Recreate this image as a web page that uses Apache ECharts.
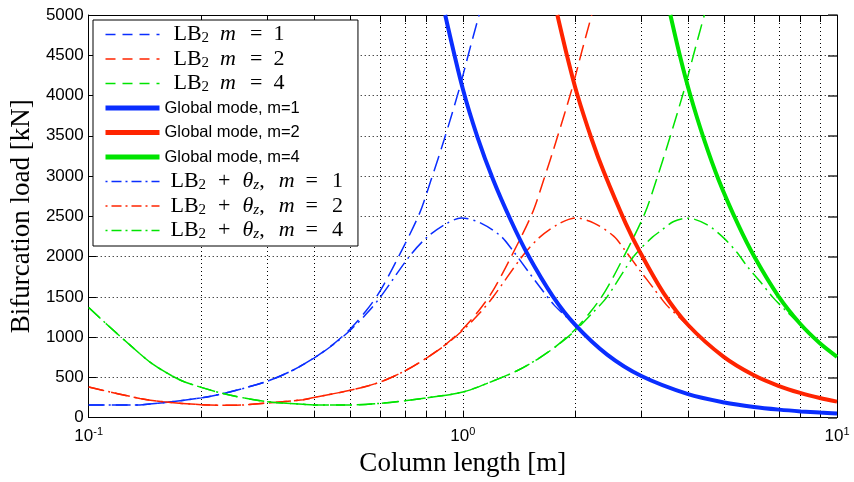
<!DOCTYPE html>
<html>
<head>
<meta charset="utf-8">
<script src="https://cdn.jsdelivr.net/npm/echarts@6/dist/echarts.min.js"></script>
<style>
  html, body { margin: 0; padding: 0; background: #fff; }
  #chart { width: 854px; height: 482px; }
</style>
</head>
<body>
<div id="chart"></div>
<script>
// Column length [m] and bifurcation load [kN] for each buckling curve

// LB2 distortional mode, dashed
const lb2M1L = [0.1, 0.125, 0.137, 0.158, 0.2, 0.238, 0.3, 0.35, 0.4, 0.45, 0.5, 0.55, 0.6, 0.67, 0.765, 0.822, 0.891, 0.978, 1.04, 1.105];
const lb2M1P = [157, 155, 158, 185, 245, 318, 452, 585, 740, 910, 1100, 1320, 1567, 1980, 2530, 2950, 3450, 4080, 4550, 5000];

const lb2M2L = [0.1, 0.137, 0.158, 0.2, 0.24, 0.3, 0.374, 0.4, 0.5, 0.6, 0.7, 0.8, 0.9, 1.0, 1.1, 1.2, 1.34, 1.53, 1.644, 1.78, 1.956, 2.08, 2.21];
const lb2M2P = [379, 238, 198, 160, 152, 180, 222, 250, 339, 440, 580, 740, 910, 1100, 1320, 1567, 1980, 2530, 2950, 3450, 4080, 4550, 5000];

const lb2M4L = [0.1, 0.1117, 0.129, 0.1487, 0.175, 0.2, 0.238, 0.3, 0.374, 0.4, 0.5, 0.6, 0.7, 0.8, 1.0, 1.2, 1.4, 1.6, 1.8, 2.0, 2.2, 2.4, 2.68, 3.06, 3.29, 3.56, 3.91, 4.16, 4.42];
const lb2M4P = [1367, 1160, 900, 660, 470, 375, 280, 198, 165, 157, 157, 177, 209, 245, 318, 452, 585, 740, 910, 1100, 1320, 1567, 1980, 2530, 2950, 3450, 4080, 4550, 5000];

// Global (flexural) mode, solid
const globM1L = [0.897, 1.0, 1.094, 1.205, 1.342, 1.487, 1.74, 2.0, 2.43, 3.0, 4.0, 5.0, 6.0, 7.0, 8.0, 9.0, 10.0];
const globM1P = [5000, 4080, 3484, 2954, 2454, 2035, 1506, 1148, 782, 516, 291, 188, 132, 99, 77, 62, 51];

const globM2L = [1.789, 1.9, 2.02, 2.217, 2.382, 2.72, 2.98, 3.44, 4.0, 4.97, 5.98, 6.97, 7.97, 9.0, 10.0];
const globM2P = [5000, 4488, 4019, 3438, 3049, 2419, 2049, 1546, 1150, 757, 528, 395, 307, 243, 198];

const globM4L = [3.587, 3.81, 4.05, 4.4, 4.83, 5.45, 6.03, 6.97, 7.97, 9.0, 10.0];
const globM4P = [5000, 4478, 4012, 3471, 2949, 2390, 1988, 1509, 1165, 923, 755];

// LB2 + theta_z mode, dash-dot
const lbtM1L = [0.1, 0.125, 0.137, 0.158, 0.2, 0.238, 0.3, 0.35, 0.4, 0.45, 0.5, 0.55, 0.6, 0.719, 0.8, 0.9, 0.99, 1.117, 1.263, 1.357, 1.487, 1.614, 1.752, 1.862, 1.98];
const lbtM1P = [157, 155, 158, 185, 245, 318, 452, 585, 740, 905, 1085, 1280, 1488, 2000, 2235, 2404, 2480, 2416, 2254, 2080, 1830, 1609, 1400, 1280, 1160];

const lbtM2L = [0.1, 0.137, 0.158, 0.2, 0.24, 0.3, 0.374, 0.4, 0.5, 0.6, 0.7, 0.8, 0.9, 1.0, 1.1, 1.2, 1.44, 1.6, 1.8, 2.0, 2.24, 2.53, 2.71, 2.97, 3.23, 3.5, 3.72, 3.96];
const lbtM2P = [379, 238, 198, 160, 152, 180, 222, 250, 339, 440, 580, 740, 905, 1085, 1280, 1488, 2000, 2235, 2404, 2480, 2416, 2254, 2080, 1830, 1609, 1400, 1280, 1160];

const lbtM4L = [0.1, 0.1117, 0.129, 0.1487, 0.175, 0.2, 0.238, 0.3, 0.374, 0.4, 0.5, 0.6, 0.7, 0.8, 1.0, 1.2, 1.4, 1.6, 1.8, 2.0, 2.2, 2.43, 2.86, 3.2, 3.37, 3.66, 4.0, 4.49, 4.97, 5.4, 5.75, 6.23, 6.75, 7.33, 7.8];
const lbtM4P = [1367, 1160, 900, 660, 470, 375, 280, 198, 165, 157, 157, 177, 209, 245, 318, 452, 585, 740, 905, 1085, 1280, 1500, 2000, 2235, 2315, 2436, 2477, 2396, 2235, 2053, 1880, 1690, 1490, 1320, 1200];

// Axis ticks
const yTicks = [0, 500, 1000, 1500, 2000, 2500, 3000, 3500, 4000, 4500, 5000];
const xDecades = [0.1, 1, 10];

const BLUE = '#0a2eff';
const RED = '#ff2400';
const GREEN = '#00e400';

const DASH = [16, 7];
const DASHDOT = [15, 5, 2, 5];
const GRID_DOT = [1, 3];

const zip = (xs, ys) => xs.map((x, i) => [x, ys[i]]);

function curve(name, L, P, color, kind) {
  const width = kind === 'solid' ? 4 : 1.5;
  const type = kind === 'dash' ? DASH : kind === 'dashdot' ? DASHDOT : 'solid';
  return {
    name: name,
    type: 'line',
    data: zip(L, P),
    symbol: 'none',
    smooth: 0.3,
    clip: true,
    z: kind === 'solid' ? 4 : 3,
    lineStyle: { color: color, width: width, type: type },
    itemStyle: { color: color },
    emphasis: { disabled: true }
  };
}

const series = [
  curve('lb2-1', lb2M1L, lb2M1P, BLUE, 'dash'),
  curve('lb2-2', lb2M2L, lb2M2P, RED, 'dash'),
  curve('lb2-4', lb2M4L, lb2M4P, GREEN, 'dash'),
  curve('glob-1', globM1L, globM1P, BLUE, 'solid'),
  curve('glob-2', globM2L, globM2P, RED, 'solid'),
  curve('glob-4', globM4L, globM4P, GREEN, 'solid'),
  curve('lbt-1', lbtM1L, lbtM1P, BLUE, 'dashdot'),
  curve('lbt-2', lbtM2L, lbtM2P, RED, 'dashdot'),
  curve('lbt-4', lbtM4L, lbtM4P, GREEN, 'dashdot')
];

// Legend texts written as rich-text fragments; the transparent {h|.} strut keeps every row the same height
const legendText = {
  'lb2-1': '{a|LB}{s|2}{m|m}{e|=}{n|1}',
  'lb2-2': '{a|LB}{s|2}{m|m}{e|=}{n|2}',
  'lb2-4': '{a|LB}{s|2}{m|m}{e|=}{n|4}',
  'glob-1': '{g|Global mode, m=1}{h|.}',
  'glob-2': '{g|Global mode, m=2}{h|.}',
  'glob-4': '{g|Global mode, m=4}{h|.}',
  'lbt-1': '{b|LB}{s|2}{p|+}{t|θ}{z|z}{c|,}{m2|m}{e2|=}{n|1}',
  'lbt-2': '{b|LB}{s|2}{p|+}{t|θ}{z|z}{c|,}{m2|m}{e2|=}{n|2}',
  'lbt-4': '{b|LB}{s|2}{p|+}{t|θ}{z|z}{c|,}{m2|m}{e2|=}{n|4}'
};

const SERIF = 'Liberation Serif';
const SANS = 'Liberation Sans';
const serifTok = (extra) => Object.assign({ fontFamily: SERIF, fontSize: 22, lineHeight: 14, color: '#000' }, extra);

const legendData = series.map(s => {
  const kind = s.lineStyle.type === 'solid' ? 'solid' : (s.lineStyle.type === DASH ? 'dash' : 'dashdot');
  return {
    name: s.name,
    itemStyle: { opacity: 0 },
    lineStyle: kind === 'solid'
      ? { width: 5 }
      : kind === 'dash' ? { width: 1.5, type: [10, 7] } : { width: 1.5, type: [2, 4, 10, 4] }
  };
});

const gridLine = { show: true, lineStyle: { color: '#000', width: 1, type: GRID_DOT } };

// Subscript fragments: pushed down by top padding inside the line
const subTok = (italic) => serifTok({ fontSize: 15, fontStyle: italic ? 'italic' : 'normal', lineHeight: 14, padding: [8, 0, 0, 0] });

const option = {
  animation: false,
  backgroundColor: '#fff',
  grid: { left: 87, right: 17, top: 15, bottom: 54, containLabel: false },
  legend: {
    data: legendData,
    orient: 'vertical',
    left: 93,
    top: 20,
    padding: [3, 15, 4, 10],
    itemWidth: 54,
    itemHeight: 14,
    itemGap: 1.5,
    backgroundColor: '#fff',
    borderColor: '#000',
    borderWidth: 1,
    borderRadius: 0,
    selectedMode: false,
    itemStyle: { opacity: 0, borderWidth: 0 },
    formatter: name => legendText[name],
    textStyle: {
      color: '#000',
      rich: {
        a: serifTok({ padding: [0, 0, 0, 9] }),
        b: serifTok({ padding: [0, 0, 0, 6] }),
        s: subTok(false),
        m: serifTok({ fontStyle: 'italic', padding: [0, 0, 0, 11] }),
        e: serifTok({ padding: [0, 11, 0, 14] }),
        n: serifTok({}),
        p: serifTok({ padding: [0, 12, 0, 12] }),
        t: serifTok({ fontStyle: 'italic' }),
        z: subTok(true),
        c: serifTok({}),
        m2: serifTok({ fontStyle: 'italic', padding: [0, 0, 0, 14] }),
        e2: serifTok({ padding: [0, 14, 0, 11] }),
        g: { fontFamily: SANS, fontSize: 16.5, lineHeight: 14, color: '#000' },
        h: serifTok({ fontSize: 15, color: 'rgba(0,0,0,0)', padding: [8, 0, 0, 0] })
      }
    }
  },
  xAxis: [
    {
      type: 'log',
      logBase: 10,
      min: xDecades[0],
      max: xDecades[xDecades.length - 1],
      position: 'bottom',
      name: 'Column length [m]',
      nameLocation: 'middle',
      nameGap: 23,
      nameTextStyle: { fontFamily: SERIF, fontSize: 27, color: '#000' },
      axisLine: { show: true, onZero: false, lineStyle: { color: '#000', width: 1 } },
      axisTick: { show: true, inside: true, length: 7, lineStyle: { color: '#000' } },
      minorTick: { show: true, splitNumber: 9, length: 7, lineStyle: { color: '#000' } },
      splitLine: gridLine,
      minorSplitLine: gridLine,
      axisLabel: {
        margin: 9,
        showMinLabel: true,
        showMaxLabel: true,
        formatter: v => '{b|10}{s|' + Math.round(Math.log10(v)) + '}',
        rich: {
          b: { fontFamily: SANS, fontSize: 17, lineHeight: 20, color: '#000' },
          s: { fontFamily: SANS, fontSize: 11, lineHeight: 10, verticalAlign: 'top', color: '#000' }
        }
      }
    },
    {
      type: 'log',
      logBase: 10,
      min: xDecades[0],
      max: xDecades[xDecades.length - 1],
      position: 'top',
      axisLine: { show: true, onZero: false, lineStyle: { color: '#000', width: 1 } },
      axisTick: { show: true, inside: true, length: 7, lineStyle: { color: '#000' } },
      minorTick: { show: true, splitNumber: 9, length: 7, lineStyle: { color: '#000' } },
      splitLine: { show: false },
      axisLabel: { show: false }
    }
  ],
  yAxis: [
    {
      type: 'value',
      min: yTicks[0],
      max: yTicks[yTicks.length - 1],
      interval: yTicks[1] - yTicks[0],
      position: 'left',
      name: 'Bifurcation load [kN]',
      nameLocation: 'middle',
      nameGap: 50,
      nameTextStyle: { fontFamily: SERIF, fontSize: 27, color: '#000' },
      axisLine: { show: true, onZero: false, lineStyle: { color: '#000', width: 1 } },
      axisTick: { show: true, inside: true, length: 8, lineStyle: { color: '#000' } },
      splitLine: gridLine,
      axisLabel: { margin: 5, fontFamily: SANS, fontSize: 17, color: '#000', formatter: v => String(v) }
    },
    {
      type: 'value',
      min: yTicks[0],
      max: yTicks[yTicks.length - 1],
      interval: yTicks[1] - yTicks[0],
      position: 'right',
      axisLine: { show: true, onZero: false, lineStyle: { color: '#000', width: 1 } },
      axisTick: { show: true, inside: true, length: 9, lineStyle: { color: '#333', width: 1.5 } },
      splitLine: { show: false },
      axisLabel: { show: false }
    }
  ],
  series: series
};

const chart = echarts.init(document.getElementById('chart'), null, { renderer: 'canvas' });
chart.setOption(option);
</script>
</body>
</html>
